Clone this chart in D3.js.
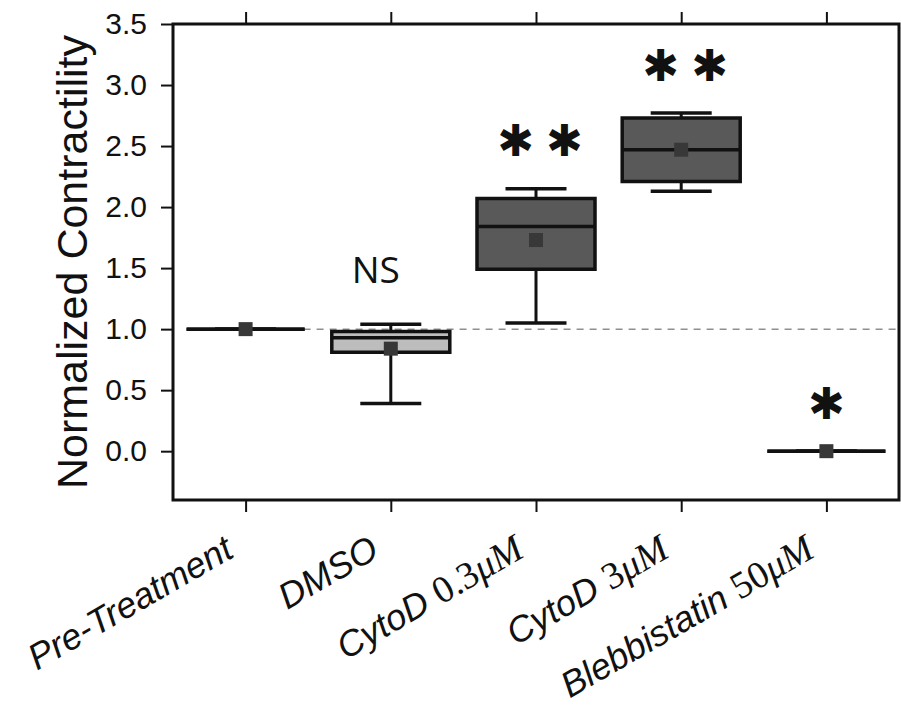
<!DOCTYPE html>
<html>
<head>
<meta charset="utf-8">
<script src="https://cdn.jsdelivr.net/npm/d3@7"></script>
<style>
  body { margin: 0; background: #fff; }
</style>
</head>
<body>
<div id="chart"></div>
<script>
// box plot values
var categories = ["Pre-Treatment", "DMSO", "CytoD 0.3μM", "CytoD 3μM", "Blebbistatin 50μM"];
var whiskerLow = [1.0, 0.39, 1.05, 2.13, 0.0];
var q1 = [1.0, 0.81, 1.49, 2.21, 0.0];
var medians = [1.0, 0.93, 1.84, 2.47, 0.0];
var q3 = [1.0, 0.98, 2.07, 2.73, 0.0];
var whiskerHigh = [1.0, 1.04, 2.15, 2.77, 0.0];
var means = [1.0, 0.84, 1.73, 2.47, 0.0];
var significance = ["", "NS", "**", "**", "*"];
var yTicks = [0, 0.5, 1, 1.5, 2, 2.5, 3, 3.5];
var boxFill = ["#bdbdbd", "#bdbdbd", "#595959", "#595959", "#595959"];

(function () {
    var width = 901, height = 709;
    var left = 173, right = 899, plotTop = 24, bottom = 500;

    var svg = d3.select("#chart").append("svg")
        .attr("width", width)
        .attr("height", height);

    var x = d3.scalePoint().domain(categories).range([left, right]).padding(0.5);
    var y = d3.scaleLinear().domain([-0.4, 3.5]).range([bottom, plotTop]);

    var boxW = 118, capW = 61;

    var rows = categories.map(function (c, i) {
        return { cat: c, lo: whiskerLow[i], q1: q1[i], med: medians[i], q3: q3[i], hi: whiskerHigh[i], mean: means[i], sig: significance[i], fill: boxFill[i] };
    });

    // reference line at 1.0
    svg.append("line")
        .attr("x1", x(categories[0]) - boxW / 2)
        .attr("x2", right)
        .attr("y1", y(1)).attr("y2", y(1))
        .attr("stroke", "#8f8f8f")
        .attr("stroke-width", 1.5)
        .attr("stroke-dasharray", "7,6");

    var g = svg.selectAll(".box").data(rows).enter().append("g").attr("class", "box");

    // whiskers
    g.append("line")
        .attr("x1", function (d) { return x(d.cat); })
        .attr("x2", function (d) { return x(d.cat); })
        .attr("y1", function (d) { return y(d.lo); })
        .attr("y2", function (d) { return y(d.hi); })
        .attr("stroke", "#111").attr("stroke-width", 3);
    g.selectAll(".cap")
        .data(function (d) { return [{ cat: d.cat, v: d.lo }, { cat: d.cat, v: d.hi }]; })
        .enter().append("line")
        .attr("x1", function (d) { return x(d.cat) - capW / 2; })
        .attr("x2", function (d) { return x(d.cat) + capW / 2; })
        .attr("y1", function (d) { return y(d.v); })
        .attr("y2", function (d) { return y(d.v); })
        .attr("stroke", "#111").attr("stroke-width", 3.5);

    // box (path so the flat ones still draw as a line)
    g.append("path")
        .attr("d", function (d) {
            var x0 = x(d.cat) - boxW / 2, x1 = x(d.cat) + boxW / 2;
            return "M" + x0 + "," + y(d.q3) + "H" + x1 + "V" + y(d.q1) + "H" + x0 + "Z";
        })
        .attr("fill", function (d) { return d.fill; })
        .attr("stroke", "#111")
        .attr("stroke-width", 3.5);

    // median
    g.append("line")
        .attr("x1", function (d) { return x(d.cat) - boxW / 2; })
        .attr("x2", function (d) { return x(d.cat) + boxW / 2; })
        .attr("y1", function (d) { return y(d.med); })
        .attr("y2", function (d) { return y(d.med); })
        .attr("stroke", "#111").attr("stroke-width", 3.5);

    // mean marker
    g.append("rect")
        .attr("x", function (d) { return x(d.cat) - 7; })
        .attr("y", function (d) { return y(d.mean) - 7; })
        .attr("width", 14).attr("height", 14)
        .attr("fill", "#383838");

    // significance marks
    g.filter(function (d) { return d.sig === "NS"; })
        .append("text")
        .attr("x", function (d) { return x(d.cat) - 15; })
        .attr("y", function (d) { return y(d.hi) - 41; })
        .attr("text-anchor", "middle")
        .style("font-family", "'Open Sans', sans-serif")
        .style("font-size", "37px")
        .attr("fill", "#111")
        .text(function (d) { return d.sig; });

    g.filter(function (d) { return d.sig.indexOf("*") === 0; })
        .append("text")
        .attr("x", function (d) { return x(d.cat) + 6 + (d.sig.length > 1 ? 4 : 0); })
        .attr("y", function (d) { return y(d.hi) - 48; })
        .attr("text-anchor", "middle")
        .attr("dominant-baseline", "central")
        .style("font-family", "'DejaVu Sans', sans-serif")
        .style("font-size", "44px")
        .style("letter-spacing", "12px")
        .attr("fill", "#111")
        .text(function (d) { return d.sig.replace(/\*/g, "✱"); });

    // frame
    svg.append("rect")
        .attr("x", left).attr("y", plotTop)
        .attr("width", right - left).attr("height", bottom - plotTop)
        .attr("fill", "none")
        .attr("stroke", "#111")
        .attr("stroke-width", 3);

    // axes
    var yAxis = svg.append("g")
        .attr("transform", "translate(" + left + ",0)")
        .call(d3.axisLeft(y).tickValues(yTicks).tickSize(12).tickPadding(14).tickFormat(d3.format(".1f")));
    yAxis.select(".domain").remove();
    yAxis.selectAll("line").attr("stroke", "#111").attr("stroke-width", 2);
    yAxis.selectAll("text")
        .style("font-family", "'Liberation Sans', Arial, sans-serif")
        .style("font-size", "30px")
        .attr("fill", "#111");

    var xAxis = svg.append("g")
        .attr("transform", "translate(0," + bottom + ")")
        .call(d3.axisBottom(x).tickSize(12).tickFormat(""));
    xAxis.select(".domain").remove();
    xAxis.selectAll("line").attr("stroke", "#111").attr("stroke-width", 2);

    var xTop = svg.append("g")
        .attr("transform", "translate(0," + plotTop + ")")
        .call(d3.axisTop(x).tickSize(12).tickFormat(""));
    xTop.select(".domain").remove();
    xTop.selectAll("line").attr("stroke", "#111").attr("stroke-width", 2);

    // rotated category labels, concentration part set like TeX math
    var labels = svg.selectAll(".xlabel").data(categories).enter().append("text")
        .attr("class", "xlabel")
        .attr("transform", function (d) { return "translate(" + (x(d) - 10) + ",556) rotate(-30)"; })
        .attr("text-anchor", "end")
        .attr("fill", "#111")
        .style("font-size", "36px");

    labels.each(function (d) {
        var t = d3.select(this);
        var m = d.match(/^(.*) ([\d.]+)μM$/);
        t.append("tspan")
            .style("font-family", "'Liberation Sans', Arial, sans-serif")
            .style("font-style", "italic")
            .text(m ? m[1] + " " : d);
        if (m) {
            t.append("tspan")
                .style("font-family", "'Liberation Serif', serif")
                .style("font-size", "38px")
                .text(m[2]);
            t.append("tspan")
                .style("font-family", "'Liberation Serif', serif")
                .style("font-style", "italic")
                .style("font-size", "38px")
                .text("μM");
        }
    });

    // y title
    svg.append("text")
        .attr("transform", "translate(87," + (plotTop + bottom) / 2 + ") rotate(-90)")
        .attr("text-anchor", "middle")
        .style("font-family", "'Liberation Sans', Arial, sans-serif")
        .style("font-size", "43px")
        .attr("fill", "#111")
        .text("Normalized Contractility");
})();
</script>
</body>
</html>
